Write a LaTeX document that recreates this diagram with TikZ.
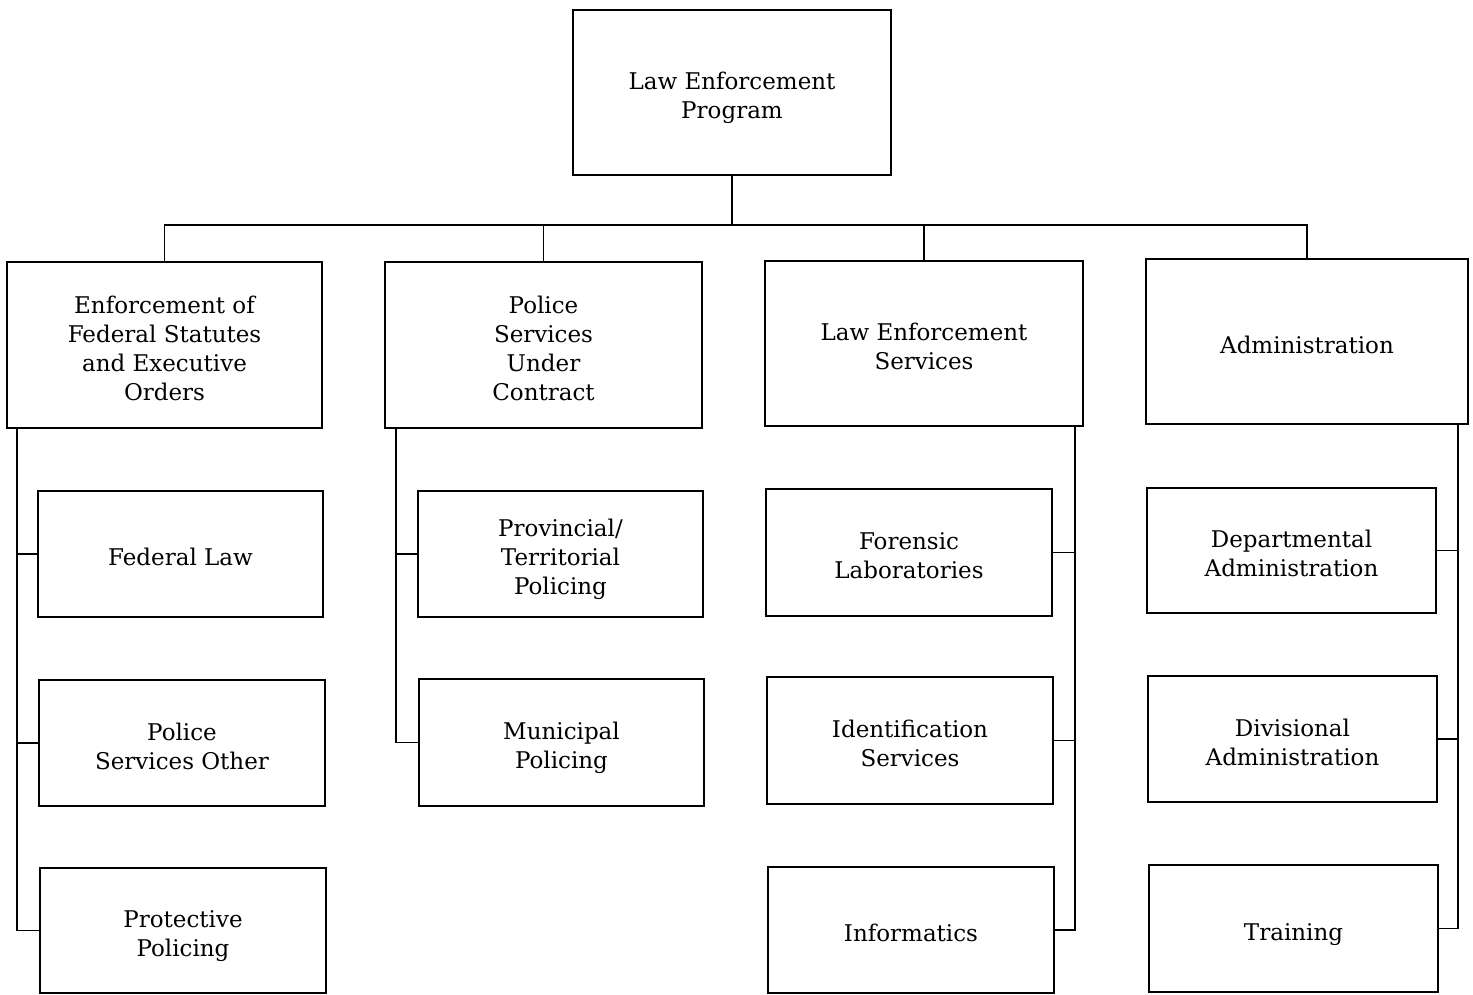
\documentclass[tikz,border=0pt]{standalone}
\usepackage{fontspec}
\setmainfont{DejaVu Serif}
\newcommand{\boxtext}[1]{\raisebox{0pt}[\dimexpr\height+12pt\relax][\depth]{\begin{tabular}{@{}c@{}}#1\end{tabular}}}
\begin{document}
\begin{tikzpicture}[x=1pt,y=-1pt,
  box/.style={draw, line width=1.8pt, inner sep=2pt,
    font=\fontsize{23}{29}\selectfont},
  conn/.style={line width=1.8pt}]
\useasboundingbox (0,0) rectangle (1473,994);
% top
\node[box, minimum width=318, minimum height=165] (top) at (732,92.5) {\boxtext{Law Enforcement\\Program}};
% level 2
\node[box, minimum width=315, minimum height=166] (A) at (164.5,345) {\boxtext{Enforcement of\\Federal Statutes\\and Executive\\Orders}};
\node[box, minimum width=317, minimum height=166] (B) at (543.5,345) {\boxtext{Police\\Services\\Under\\Contract}};
\node[box, minimum width=318, minimum height=165] (C) at (924,343.5) {\boxtext{Law Enforcement\\Services}};
\node[box, minimum width=322, minimum height=165] (D) at (1307,341.5) {\boxtext{Administration}};
% column A
\node[box, minimum width=285, minimum height=126] (A1) at (180.5,554) {\boxtext{Federal Law}};
\node[box, minimum width=286, minimum height=126] (A2) at (182,743) {\boxtext{Police\\Services Other}};
\node[box, minimum width=286, minimum height=125] (A3) at (183,930.5) {\boxtext{Protective\\Policing}};
% column B
\node[box, minimum width=285, minimum height=126] (B1) at (560.5,554) {\boxtext{Provincial/\\Territorial\\Policing}};
\node[box, minimum width=285, minimum height=127] (B2) at (561.5,742.5) {\boxtext{Municipal\\Policing}};
% column C
\node[box, minimum width=286, minimum height=127] (C1) at (909,552.5) {\boxtext{Forensic\\Laboratories}};
\node[box, minimum width=286, minimum height=127] (C2) at (910,740.5) {\boxtext{Identification\\Services}};
\node[box, minimum width=286, minimum height=126] (C3) at (911,930) {\boxtext{Informatics}};
% column D
\node[box, minimum width=289, minimum height=125] (D1) at (1291.5,550.5) {\boxtext{Departmental\\Administration}};
\node[box, minimum width=289, minimum height=126] (D2) at (1292.5,739) {\boxtext{Divisional\\Administration}};
\node[box, minimum width=289, minimum height=127] (D3) at (1293.5,928.5) {\boxtext{Training}};
% bus
\coordinate (bus) at (732,225);
\draw[conn] (top.south) -- (top.south |- bus);
\draw[conn] (A.north) -- (A.north |- bus) -- (D.north |- bus) -- (D.north);
\draw[conn] (B.north) -- (B.north |- bus);
\draw[conn] (C.north) -- (C.north |- bus);
% spines
\coordinate (sA) at ([xshift=11pt]A.south west);
\draw[conn] (sA) |- (A3.west);
\draw[conn] (A1.west) -- (A1.west -| sA);
\draw[conn] (A2.west) -- (A2.west -| sA);
\coordinate (sB) at ([xshift=12pt]B.south west);
\draw[conn] (sB) |- (B2.west);
\draw[conn] (B1.west) -- (B1.west -| sB);
\coordinate (sC) at ([xshift=-9pt]C.south east);
\draw[conn] (sC) |- (C3.east);
\draw[conn] (C1.east) -- (C1.east -| sC);
\draw[conn] (C2.east) -- (C2.east -| sC);
\coordinate (sD) at ([xshift=-11pt]D.south east);
\draw[conn] (sD) |- (D3.east);
\draw[conn] (D1.east) -- (D1.east -| sD);
\draw[conn] (D2.east) -- (D2.east -| sD);
\end{tikzpicture}
\end{document}
